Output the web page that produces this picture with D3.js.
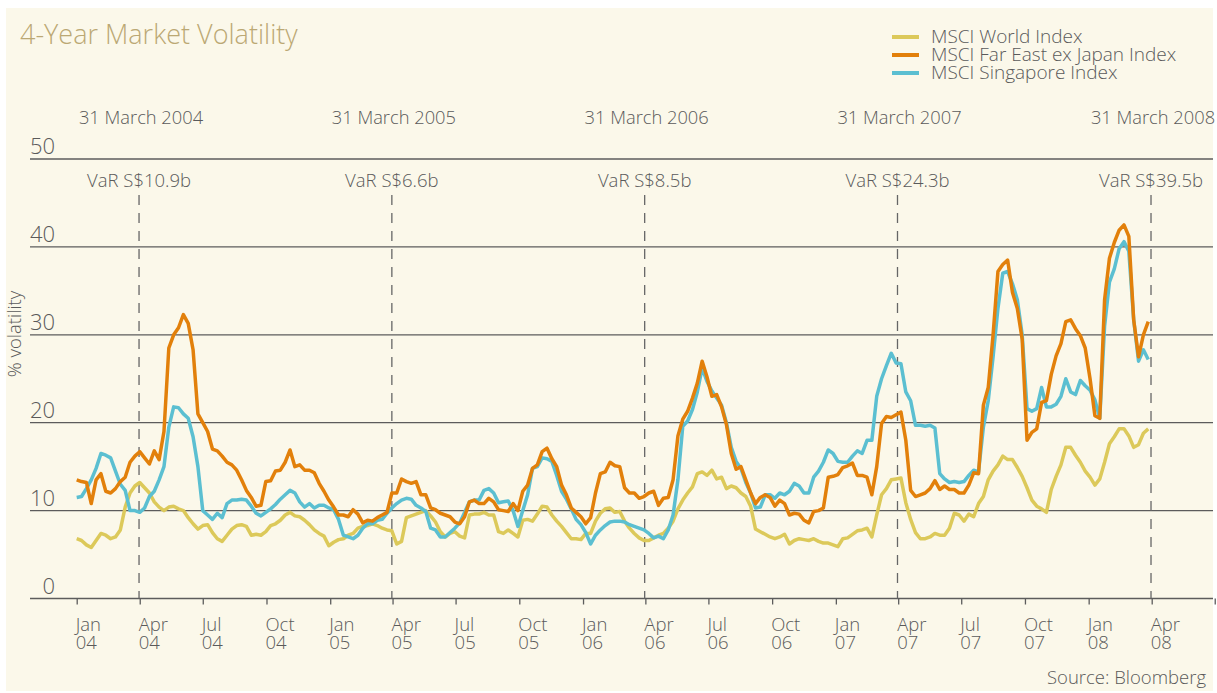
<!DOCTYPE html>
<html lang="en">
  <head>
    <meta charset="UTF-8" />
    <title>4-Year Market Volatility</title>
    <style>
      body { margin: 0; background: #fff; }
      svg text { font-family: "Open Sans", Roboto, sans-serif; font-weight: 300; fill: #5a5a5a; }
    </style>
  </head>
  <body>
    <svg id="chart" width="1217" height="693"></svg>
    <script src="https://cdn.jsdelivr.net/npm/d3@7"></script>
    <script>
      // weekly readings, first week starting 1 Jan 2004
      const startDate = new Date(2004, 0, 1);

      const worldIndex = [
        6.8, 6.6, 6.1, 5.8, 6.6, 7.4, 7.2, 6.8, 7.0, 7.8,
        10.4, 12.0, 12.8, 13.2, 12.6, 12.0, 11.0, 10.4, 10.0, 10.4,
        10.5, 10.2, 10.0, 9.2, 8.5, 7.9, 8.3, 8.4, 7.5, 6.8,
        6.5, 7.2, 7.9, 8.3, 8.4, 8.2, 7.2, 7.3,
        7.2, 7.6, 8.3, 8.5, 8.9, 9.5, 9.8, 9.4, 9.3, 8.9,
        8.4, 7.8, 7.4, 7.1, 6.0, 6.4, 6.7, 6.8, 7.2, 7.4,
        8.0, 8.2, 8.3, 8.5, 8.3, 8.0, 7.8, 7.7, 6.2, 6.5,
        9.2, 9.4, 9.6, 9.8, 10.0, 9.4, 8.7,
        7.6, 7.0, 7.4, 7.6, 7.1, 6.9, 9.5, 9.6, 9.6, 9.8,
        9.5, 9.5, 7.6, 7.4, 7.8, 7.4, 7.0, 8.9, 9.0, 8.8,
        9.6, 10.5, 10.4, 9.5, 8.8, 8.2, 7.5, 6.8, 6.8, 6.7,
        7.4, 7.4, 8.8, 9.7, 10.2, 10.3, 9.8,
        9.9, 8.8, 8.0, 7.4, 6.9, 6.6, 6.6, 6.9, 7.2, 7.4,
        8.0, 8.8, 10.2, 11.2, 12.0, 12.7, 14.2, 14.4, 14.0, 14.6,
        13.6, 13.8, 12.5, 12.8, 12.6, 12.0, 11.6, 10.5, 7.9, 7.6,
        7.3, 7.0, 6.8, 7.0, 7.3, 6.2, 6.6,
        6.8, 6.7, 6.6, 6.8, 6.5, 6.3, 6.3, 6.1, 5.9, 6.8,
        6.9, 7.3, 7.7, 7.8, 8.0, 7.0, 9.5, 11.8, 12.5, 13.5,
        13.6, 13.7, 10.9, 9.0, 7.5, 6.8, 6.8, 7.0, 7.4, 7.2,
        7.2, 8.0, 9.7, 9.5, 8.8, 9.6, 9.3,
        10.8, 11.6, 13.5, 14.5, 15.2, 16.2, 15.8, 15.8, 14.9, 13.9,
        12.6, 11.2, 10.5, 10.2, 9.8, 12.4, 13.9, 15.2, 17.2, 17.2,
        16.3, 15.5, 14.5, 13.8, 12.9, 13.6, 15.5, 17.6, 18.4, 19.3,
        19.3, 18.5, 17.2, 17.5, 18.8, 19.3
      ];

      const farEastIndex = [
        13.5, 13.3, 13.2, 10.8, 13.5, 14.2, 12.2, 12.0, 12.5, 13.3,
        13.8, 15.5, 16.2, 16.7, 16.0, 15.3, 16.8, 15.8, 19.0, 28.5,
        30.0, 30.8, 32.3, 31.3, 28.3, 21.0, 20.0, 19.0, 17.0, 16.8,
        16.2, 15.5, 15.2, 14.6, 13.5, 12.3, 11.5, 10.5,
        10.6, 13.3, 13.4, 14.5, 14.6, 15.5, 16.9, 15.0, 15.2, 14.6,
        14.6, 14.3, 13.1, 12.2, 11.2, 10.4, 9.5, 9.5, 9.3, 10.1,
        9.6, 8.6, 8.9, 8.8, 9.2, 9.5, 9.8, 12.0, 12.0, 13.6,
        13.3, 13.1, 13.3, 11.8, 11.8, 10.3, 10.1,
        9.7, 9.5, 9.3, 8.7, 8.5, 9.3, 11.0, 11.2, 10.8, 10.8,
        11.4, 11.0, 10.1, 10.0, 9.9, 10.8, 10.0, 12.2, 12.9, 14.8,
        15.2, 16.7, 17.1, 15.9, 15.0, 12.9, 11.8, 10.3, 9.8, 9.3,
        8.5, 9.2, 12.0, 14.2, 14.4, 15.5, 15.1,
        15.0, 12.6, 12.0, 12.0, 11.4, 11.6, 12.0, 12.2, 10.6, 11.4,
        11.5, 13.5, 18.5, 20.4, 21.3, 22.8, 24.5, 27.0, 25.2, 23.0,
        23.2, 21.8, 19.8, 16.5, 14.7, 15.0, 13.5, 12.0, 10.8, 11.5,
        11.8, 11.5, 10.5, 11.2, 10.8, 9.5, 9.7,
        9.6, 8.9, 8.6, 9.9, 10.0, 10.3, 13.8, 13.9, 14.1, 14.9,
        15.1, 15.4, 14.0, 14.0, 13.8, 11.8, 15.0, 19.9, 20.7, 20.6,
        20.9, 21.2, 18.0, 12.3, 11.6, 11.8, 12.0, 12.5, 13.4, 12.4,
        12.8, 12.4, 12.4, 12.0, 12.0, 12.9, 14.3,
        14.2, 22.0, 24.0, 30.0, 37.2, 38.0, 38.5, 34.8, 33.0, 29.5,
        18.0, 18.9, 19.3, 22.3, 22.5, 25.5, 27.6, 29.0, 31.5, 31.7,
        30.7, 29.9, 28.5, 25.0, 20.8, 20.5, 34.0, 38.7, 40.5, 41.9,
        42.5, 41.2, 31.7, 27.5, 30.0, 31.5
      ];

      const singaporeIndex = [
        11.5, 11.6, 12.5, 13.5, 14.8, 16.5, 16.3, 16.0, 14.5, 13.0,
        12.3, 10.0, 10.0, 9.8, 10.3, 11.6, 12.2, 13.5, 15.0, 19.5,
        21.8, 21.7, 21.0, 20.5, 18.4, 15.0, 10.0, 9.5, 9.0, 9.7,
        9.2, 10.8, 11.2, 11.2, 11.3, 11.2, 10.5, 9.7,
        9.4, 9.8, 10.2, 10.7, 11.3, 11.8, 12.3, 12.0, 11.0, 10.4,
        10.8, 10.3, 10.6, 10.6, 10.3, 10.1, 9.0, 7.2, 7.0, 6.8,
        7.2, 8.0, 8.5, 8.5, 8.9, 9.0, 9.7, 10.3, 10.8, 11.2,
        11.4, 11.3, 10.6, 10.3, 9.9, 8.0, 7.8,
        7.0, 7.0, 7.5, 8.0, 8.6, 9.8, 11.0, 11.2, 11.2, 12.3,
        12.5, 12.0, 10.9, 11.0, 11.1, 10.0, 8.2, 10.0, 11.8, 14.8,
        15.0, 16.0, 15.9, 15.6, 14.0, 12.2, 11.3, 10.2, 9.0, 8.4,
        7.5, 6.2, 7.2, 7.8, 8.3, 8.7, 8.8,
        8.8, 8.7, 8.4, 8.2, 8.0, 7.8, 7.4, 6.9, 7.1, 6.8,
        7.8, 9.5, 13.5, 19.6, 20.2, 21.5, 23.5, 26.2, 24.7, 23.6,
        22.8, 22.0, 20.0, 17.2, 15.6, 14.8, 13.2, 12.0, 10.3, 10.4,
        11.8, 11.8, 11.4, 12.0, 11.8, 12.2, 13.1,
        12.8, 12.0, 12.0, 13.8, 14.5, 15.5, 16.9, 16.5, 15.6, 15.5,
        15.5, 16.2, 16.8, 16.5, 18.0, 18.0, 23.0, 25.0, 26.5, 27.9,
        26.8, 26.7, 23.5, 22.5, 19.7, 19.7, 19.6, 19.7, 19.4, 14.2,
        13.6, 13.2, 13.3, 13.2, 13.3, 14.0, 14.6,
        14.4, 19.5, 22.5, 27.5, 33.0, 37.0, 37.2, 35.8, 34.0, 30.0,
        21.6, 21.3, 21.6, 24.0, 21.8, 21.8, 22.1, 23.0, 25.0, 23.5,
        23.2, 24.8, 24.2, 23.7, 22.6, 20.5, 31.0, 36.0, 37.5, 39.8,
        40.6, 39.5, 31.7, 27.0, 28.3, 27.2
      ];

      const seriesNames = ["MSCI World Index", "MSCI Far East ex Japan Index", "MSCI Singapore Index"];
      const seriesColors = ["#dcc95a", "#e2800b", "#5bbfd1"];

      const yTicks = [0, 10, 20, 30, 40, 50];

      const quarterTicks = [
        "2004-01", "2004-04", "2004-07", "2004-10", "2005-01", "2005-04", "2005-07", "2005-10",
        "2006-01", "2006-04", "2006-07", "2006-10", "2007-01", "2007-04", "2007-07", "2007-10",
        "2008-01", "2008-04", "2008-07"
      ];
      const quarterLabels = [
        ["Jan", "04"], ["Apr", "04"], ["Jul", "04"], ["Oct", "04"],
        ["Jan", "05"], ["Apr", "05"], ["Jul", "05"], ["Oct", "05"],
        ["Jan", "06"], ["Apr", "06"], ["Jul", "06"], ["Oct", "06"],
        ["Jan", "07"], ["Apr", "07"], ["Jul", "07"], ["Oct", "07"],
        ["Jan", "08"], ["Apr", "08"], ["", ""]
      ];

      const yearEnds = ["2004-03-31", "2005-03-31", "2006-03-31", "2007-03-31", "2008-03-31"];
      const yearEndLabels = ["31 March 2004", "31 March 2005", "31 March 2006", "31 March 2007", "31 March 2008"];
      const varLabels = ["VaR S$10.9b", "VaR S$6.6b", "VaR S$8.5b", "VaR S$24.3b", "VaR S$39.5b"];

      const parseMonth = d3.timeParse("%Y-%m");
      const parseDay = d3.timeParse("%Y-%m-%d");

      const svg = d3.select("#chart");

      // cream panel
      svg.append("rect")
        .attr("x", 6).attr("y", 8)
        .attr("width", 1207).attr("height", 683)
        .attr("fill", "#fbf8ea");

      const x = d3.scaleTime()
        .domain([new Date(2004, 0, 1), new Date(2008, 3, 1)])
        .range([76.7, 1151.7]);
      const y = d3.scaleLinear().domain([0, 50]).range([598.5, 159]);

      // title
      svg.append("text")
        .attr("x", 20).attr("y", 44)
        .style("font-size", "27px")
        .style("fill", "#bba874")
        .text("4-Year Market Volatility");

      // horizontal grid
      svg.append("g").selectAll("line")
        .data(yTicks)
        .join("line")
        .attr("x1", 30).attr("x2", 1213)
        .attr("y1", (d) => y(d)).attr("y2", (d) => y(d))
        .attr("stroke", "#5c5c5c")
        .attr("stroke-width", 1.3);

      svg.append("g").selectAll("text")
        .data(yTicks)
        .join("text")
        .attr("x", 55)
        .attr("y", (d) => y(d) - 5)
        .attr("text-anchor", "end")
        .style("font-size", "22px")
        .text((d) => d);

      svg.append("text")
        .attr("transform", "translate(21,334) rotate(-90)")
        .attr("text-anchor", "middle")
        .style("font-size", "18.5px")
        .text("% volatility");

      // x axis ticks
      const xAxis = d3.axisBottom(x)
        .tickValues(quarterTicks.map(parseMonth))
        .tickSize(6)
        .tickSizeOuter(0)
        .tickFormat("");
      const axisG = svg.append("g")
        .attr("transform", `translate(0,${y(0)})`)
        .call(xAxis);
      axisG.select(".domain").remove();
      axisG.selectAll(".tick line").attr("stroke", "#5c5c5c").attr("stroke-width", 1.3);

      const quarterData = quarterTicks.map((d, i) => ({ date: parseMonth(d), label: quarterLabels[i] }));
      svg.append("g").selectAll("text")
        .data(quarterData)
        .join("text")
        .attr("x", (d) => x(d.date) - 1)
        .attr("y", 631)
        .style("font-size", "18.5px")
        .text((d) => d.label[0]);
      svg.append("g").selectAll("text")
        .data(quarterData)
        .join("text")
        .attr("x", (d) => x(d.date) - 1)
        .attr("y", 649)
        .style("font-size", "18.5px")
        .text((d) => d.label[1]);

      // year-end markers
      const markers = yearEnds.map((d, i) => ({
        date: parseDay(d), top: yearEndLabels[i], value: varLabels[i]
      }));
      svg.append("g").selectAll("line")
        .data(markers)
        .join("line")
        .attr("x1", (d) => x(d.date)).attr("x2", (d) => x(d.date))
        .attr("y1", 195).attr("y2", y(0))
        .attr("stroke", "#666")
        .attr("stroke-width", 1.3)
        .attr("stroke-dasharray", "10,8");
      svg.append("g").selectAll("text")
        .data(markers)
        .join("text")
        .attr("x", (d) => x(d.date) + 2)
        .attr("y", 124)
        .attr("text-anchor", "middle")
        .style("font-size", "18.3px")
        .text((d) => d.top);
      svg.append("g").selectAll("text")
        .data(markers)
        .join("text")
        .attr("x", (d) => x(d.date))
        .attr("y", 187)
        .attr("text-anchor", "middle")
        .style("font-size", "18.5px")
        .text((d) => d.value);

      // lines
      const line = d3.line()
        .x((d, i) => x(d3.timeDay.offset(startDate, 7 * i)))
        .y((d) => y(d))
        .curve(d3.curveLinear);

      const allSeries = [worldIndex, singaporeIndex, farEastIndex];
      const drawColors = [seriesColors[0], seriesColors[2], seriesColors[1]];
      svg.append("g").selectAll("path")
        .data(allSeries)
        .join("path")
        .attr("d", line)
        .attr("fill", "none")
        .attr("stroke", (d, i) => drawColors[i])
        .attr("stroke-width", 3.5)
        .attr("stroke-linejoin", "round");

      // legend
      const legend = svg.append("g").selectAll("g")
        .data(seriesNames)
        .join("g")
        .attr("transform", (d, i) => `translate(892,${43 + i * 18})`);
      legend.append("line")
        .attr("x1", 0).attr("x2", 27)
        .attr("y1", -6).attr("y2", -6)
        .attr("stroke", (d, i) => seriesColors[i])
        .attr("stroke-width", 4);
      legend.append("text")
        .attr("x", 39).attr("y", 0)
        .style("font-size", "19px")
        .text((d) => d);

      svg.append("text")
        .attr("x", 1206).attr("y", 684)
        .attr("text-anchor", "end")
        .style("font-size", "18.5px")
        .text("Source: Bloomberg");
    </script>
  </body>
</html>
